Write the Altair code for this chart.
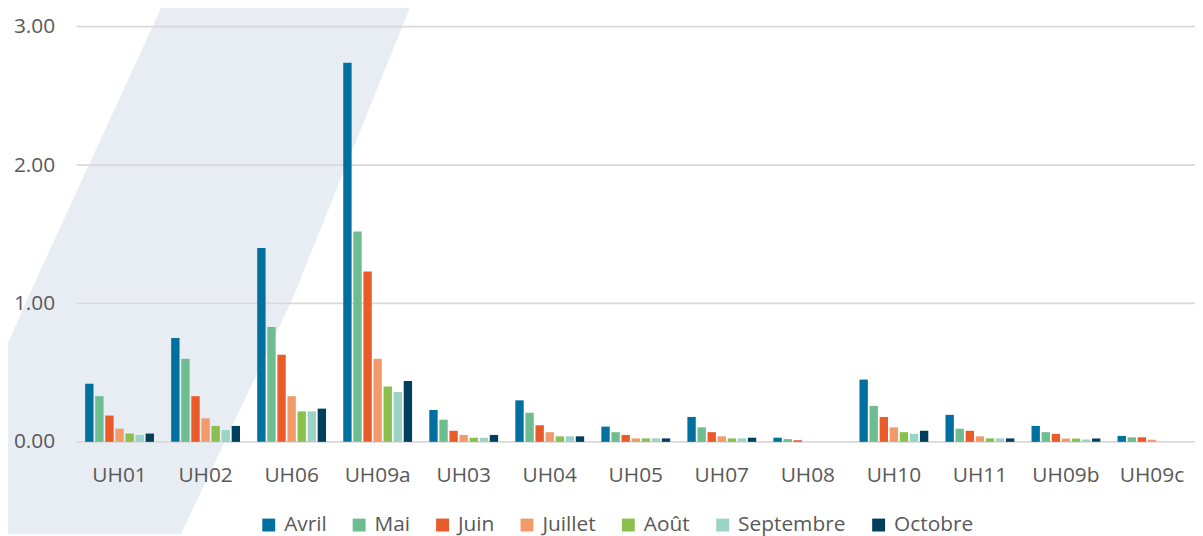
import altair as alt
import pandas as pd

categories = ["UH01", "UH02", "UH06", "UH09a", "UH03", "UH04", "UH05",
              "UH07", "UH08", "UH10", "UH11", "UH09b", "UH09c"]
months = ["Avril", "Mai", "Juin", "Juillet", "Août", "Septembre", "Octobre"]
colors = ["#00709e", "#6dbd91", "#ea5b2a", "#f39a6b", "#8bbf4e", "#9bd3c5", "#00405d"]

avril     = [0.42, 0.75, 1.40, 2.74, 0.23, 0.30, 0.11, 0.18, 0.03, 0.45, 0.195, 0.115, 0.043]
mai       = [0.33, 0.60, 0.83, 1.52, 0.16, 0.21, 0.07, 0.105, 0.02, 0.26, 0.095, 0.07, 0.033]
juin      = [0.19, 0.33, 0.63, 1.23, 0.08, 0.12, 0.05, 0.07, 0.012, 0.18, 0.08, 0.058, 0.033]
juillet   = [0.095, 0.17, 0.33, 0.60, 0.05, 0.07, 0.025, 0.04, None, 0.105, 0.04, 0.024, 0.015]
aout      = [0.06, 0.115, 0.22, 0.40, 0.03, 0.04, 0.025, 0.025, None, 0.07, 0.025, 0.024, None]
septembre = [0.05, 0.085, 0.22, 0.36, 0.03, 0.04, 0.025, 0.025, None, 0.058, 0.025, 0.017, None]
octobre   = [0.06, 0.115, 0.24, 0.44, 0.05, 0.04, 0.025, 0.03, None, 0.08, 0.025, 0.024, None]
series = [avril, mai, juin, juillet, aout, septembre, octobre]

y_ticks = [0, 1, 2, 3]

rows = []
for m, vals in zip(months, series):
    for c, v in zip(categories, vals):
        if v is not None:
            rows.append({"cat": c, "month": m, "value": v})
df = pd.DataFrame(rows)

W, H = 1126, 418
FONT = "Open Sans"
GREY = "#595959"

# decorative diagonal background band (pixel space of the plot area)
band_df = pd.DataFrame({
    "py": [-25, 275, 511],
    "xl": [88, -50, -152],
    "xr": [338, 217, 105],
})
band = alt.Chart(band_df).mark_area(orient="horizontal", color="#e8edf3", clip=False).encode(
    y=alt.Y("py:Q", scale=alt.Scale(domain=[0, H], range=[0, H], zero=False, nice=False), axis=None),
    x=alt.X("xl:Q", scale=alt.Scale(domain=[0, W], range=[0, W], zero=False, nice=False), axis=None),
    x2="xr:Q",
)

grid = alt.Chart(pd.DataFrame({"value": y_ticks})).mark_rule(color="#d9d9d9", strokeWidth=1.8).encode(
    y=alt.Y("value:Q", scale=alt.Scale(domain=[0, 3], nice=False)),
)

bars = alt.Chart(df).mark_bar().encode(
    x=alt.X("cat:N", sort=categories,
            scale=alt.Scale(paddingInner=0.2, paddingOuter=0.1),
            axis=alt.Axis(title=None, labelAngle=0, labelFontSize=21, labelFont=FONT,
                          labelColor=GREY, ticks=False, domain=False, labelPadding=23,
                          zindex=1)),
    xOffset=alt.XOffset("month:N", sort=months,
                        scale=alt.Scale(paddingInner=0.17, paddingOuter=0)),
    y=alt.Y("value:Q", scale=alt.Scale(domain=[0, 3], nice=False),
            axis=alt.Axis(title=None, values=y_ticks, format=".2f", grid=False,
                          domain=False, ticks=False, labelFontSize=21, labelFont=FONT,
                          labelColor=GREY, labelPadding=22, zindex=1)),
    color=alt.Color("month:N", sort=months,
                    scale=alt.Scale(domain=months, range=colors),
                    legend=alt.Legend(title=None, orient="none", legendX=183, legendY=491,
                                      direction="horizontal", columns=7,
                                      symbolType="square", symbolSize=169, symbolStrokeWidth=0,
                                      labelFontSize=21, labelFont=FONT, labelColor=GREY,
                                      columnPadding=22, labelOffset=5, padding=0)),
)

inner = alt.layer(grid, bars)

chart = alt.layer(band, inner).resolve_scale(x="independent", y="independent").properties(
    width=W, height=H,
    autosize=alt.AutoSizeParams(type="none"),
    padding={"left": 69, "top": 17, "right": 0, "bottom": 93},
).configure_view(stroke=None)

chart.save("out.html", embed_options={"renderer": "svg", "actions": False})
